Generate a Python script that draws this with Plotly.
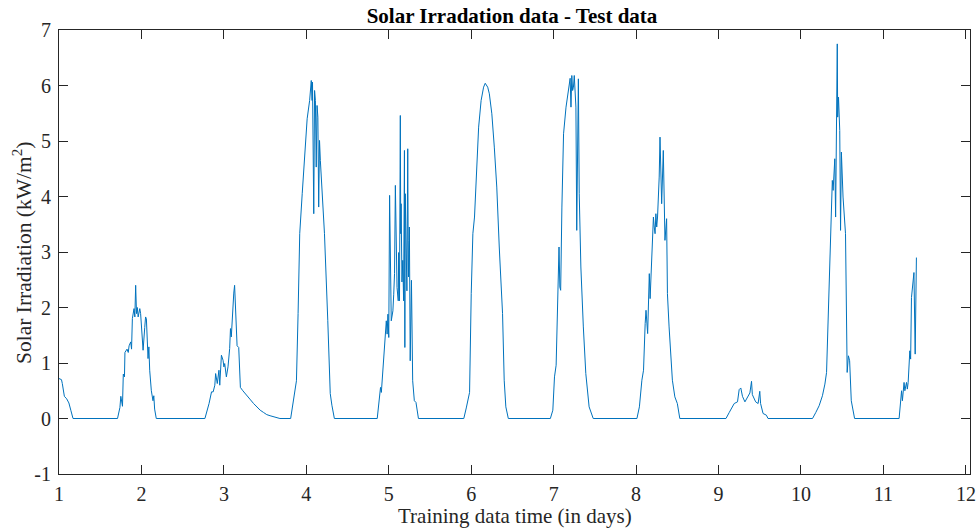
import plotly.graph_objects as go

# Time (days) and solar irradiation (kW/m^2)
t = [1.00, 1.03, 1.04, 1.065, 1.093, 1.12, 1.145, 1.17,
     1.71, 1.739, 1.75, 1.77, 1.78, 1.794, 1.80, 1.825, 1.84, 1.85, 1.87, 1.88, 1.89, 1.91, 1.92, 1.93,
     1.94, 1.95, 1.96, 1.98, 1.99, 2.02, 2.04, 2.05, 2.06, 2.08, 2.09, 2.10, 2.12, 2.14, 2.15, 2.16, 2.18,
     2.77, 2.82, 2.85, 2.87, 2.89, 2.90, 2.92, 2.94, 2.95, 2.97, 2.99, 3.00, 3.01, 3.03, 3.05, 3.07, 3.08,
     3.09, 3.11, 3.12, 3.13, 3.14, 3.16, 3.18, 3.20, 3.23, 3.27, 3.315, 3.36, 3.40, 3.44, 3.48, 3.52, 3.56,
     3.60, 3.64, 3.68,
     3.81, 3.835, 3.86, 3.88, 3.90, 3.92, 3.95, 3.98, 4.01, 4.04, 4.06, 4.07, 4.075, 4.09, 4.10, 4.11,
     4.12, 4.13, 4.14, 4.15, 4.16, 4.17, 4.19, 4.22, 4.26, 4.29, 4.31, 4.34,
     4.86, 4.90, 4.91, 4.93, 4.95, 4.97, 4.98, 4.99, 5.00, 5.01, 5.03, 5.05, 5.06, 5.07, 5.08, 5.10, 5.115,
     5.12, 5.13, 5.14, 5.145, 5.15, 5.16, 5.17, 5.18, 5.19, 5.195, 5.20, 5.22, 5.23, 5.235, 5.24, 5.25,
     5.26, 5.275, 5.28, 5.29, 5.31, 5.33, 5.36,
     5.91, 5.94, 5.98, 6.00, 6.02, 6.04, 6.07, 6.09, 6.12, 6.15, 6.17, 6.20, 6.22, 6.25, 6.28, 6.31, 6.34,
     6.38, 6.40, 6.42, 6.45,
     6.96, 6.99, 7.01, 7.03, 7.05, 7.065, 7.075, 7.085, 7.10, 7.12, 7.15, 7.18, 7.20, 7.21, 7.22, 7.23,
     7.24, 7.25, 7.26, 7.27, 7.28, 7.30, 7.31, 7.33, 7.36, 7.39, 7.43, 7.48,
     8.01, 8.04, 8.07, 8.09, 8.11, 8.12, 8.14, 8.15, 8.16, 8.17, 8.20, 8.21, 8.22, 8.23, 8.24, 8.25, 8.26,
     8.28, 8.29, 8.30, 8.31, 8.33, 8.34, 8.35, 8.37, 8.38, 8.40, 8.42, 8.44, 8.47, 8.50, 8.53,
     9.09, 9.13, 9.19, 9.23, 9.25, 9.27, 9.29, 9.32, 9.35, 9.38, 9.40, 9.41, 9.45, 9.48, 9.50, 9.51, 9.54,
     9.58, 9.60,
     10.14, 10.18, 10.22, 10.26, 10.29, 10.31, 10.33, 10.35, 10.36, 10.38, 10.39, 10.41, 10.42, 10.44,
     10.445, 10.455, 10.47, 10.48, 10.49, 10.51, 10.54, 10.55, 10.56, 10.575, 10.59, 10.61, 10.65,
     11.19, 11.22, 11.23, 11.25, 11.26, 11.28, 11.29, 11.30, 11.32, 11.33, 11.34, 11.37, 11.385, 11.40]

irr = [0.72, 0.70, 0.63, 0.40, 0.355, 0.28, 0.14, 0.0,
       0.0, 0.20, 0.40, 0.22, 0.80, 0.75, 1.19, 1.25, 1.19, 1.31, 1.38, 1.25, 1.80, 1.98, 1.83, 2.40,
       1.89, 2.00, 1.83, 1.98, 1.89, 1.23, 1.64, 1.83, 1.80, 1.08, 1.29, 0.87, 0.50, 0.32, 0.41, 0.17, 0.0,
       0.0, 0.27, 0.48, 0.48, 0.60, 0.81, 0.63, 0.87, 0.60, 1.14, 1.05, 0.93, 0.99, 0.75, 0.93, 1.26, 1.62,
       1.47, 2.17, 2.26, 2.40, 1.98, 1.31, 1.28, 0.56, 0.50, 0.42, 0.35, 0.27, 0.20, 0.15, 0.11, 0.07, 0.05,
       0.03, 0.01, 0.0,
       0.0, 0.26, 0.50, 0.68, 1.89, 3.33, 4.05, 4.77, 5.40, 5.73, 6.09, 5.73, 6.06, 3.69, 5.91, 5.73,
       4.53, 5.64, 5.43, 3.81, 5.01, 4.65, 4.05, 3.33, 1.77, 0.45, 0.24, 0.0,
       0.0, 0.56, 0.47, 0.92, 1.22, 1.76, 1.52, 1.88, 1.46, 4.02, 1.76, 1.94, 2.24, 2.61, 4.20, 2.36, 2.12,
       2.99, 2.12, 5.46, 3.33, 3.87, 2.46, 2.85, 2.12, 4.83, 1.28, 4.05, 2.30, 4.86, 3.21, 2.55, 3.45,
       1.04, 2.49, 1.28, 0.68, 0.32, 0.29, 0.0,
       0.0, 0.19, 0.47, 2.25, 3.33, 3.63, 4.65, 5.25, 5.73, 5.97, 6.04, 5.97, 5.85, 5.49, 4.89, 4.17, 3.09,
       1.89, 0.69, 0.21, 0.0,
       0.0, 0.15, 0.75, 0.96, 2.25, 3.09, 2.37, 2.31, 3.81, 5.13, 5.61, 5.91, 6.13, 5.61, 6.18, 5.91,
       5.97, 6.18, 5.94, 5.61, 3.39, 6.12, 4.05, 2.73, 1.65, 0.81, 0.21, 0.0,
       0.0, 0.21, 0.69, 0.87, 1.71, 1.95, 1.53, 2.25, 2.61, 2.16, 3.09, 3.63, 3.45, 3.33, 3.69, 3.45, 3.63,
       4.35, 5.07, 4.35, 3.87, 4.83, 3.93, 3.21, 3.60, 2.25, 1.65, 1.05, 0.69, 0.39, 0.27, 0.0,
       0.0, 0.11, 0.27, 0.30, 0.52, 0.55, 0.40, 0.30, 0.37, 0.46, 0.67, 0.43, 0.30, 0.27, 0.49, 0.27, 0.09,
       0.06, 0.0,
       0.0, 0.11, 0.23, 0.41, 0.62, 0.83, 1.76, 2.84, 3.45, 4.29, 4.11, 4.68, 3.63, 6.75,
       5.43, 5.79, 5.19, 3.39, 4.80, 3.99, 3.33, 1.95, 0.83, 1.13, 1.04, 0.32, 0.0,
       0.0, 0.50, 0.32, 0.65, 0.50, 0.65, 0.53, 0.65, 1.22, 1.07, 2.18, 2.63, 1.16, 2.90]

x_ticks = [1, 2, 3, 4, 5, 6, 7, 8, 9, 10, 11, 12]
y_ticks = [-1, 0, 1, 2, 3, 4, 5, 6, 7]
y_tick_text = ["-1", "0", "1", "2", "3", "4", "5", "6", "7"]

FONT = "Liberation Serif, Times New Roman, serif"
AXC = "#262626"

W, H = 979, 529
L, R, T, B = 59, 9, 30, 55
PW, PH = W - L - R, H - T - B

fig = go.Figure()
fig.add_trace(go.Scatter(x=t, y=irr, mode="lines",
                         line=dict(color="#0072BD", width=1), showlegend=False))

axis_common = dict(showline=True, linecolor=AXC, linewidth=1, mirror="ticks",
                   ticks="inside", ticklen=9, tickcolor=AXC, tickwidth=1,
                   showgrid=False, zeroline=False, automargin=False,
                   tickfont=dict(family=FONT, size=20, color=AXC))

fig.update_layout(
    width=W, height=H,
    margin=dict(l=L, r=R, t=T, b=B),
    paper_bgcolor="white", plot_bgcolor="white",
    title=dict(text="<b>Solar Irradation data - Test data</b>",
               font=dict(family=FONT, size=21, color="black"),
               x=512 / W, xanchor="center", y=1 - 16 / H, yanchor="middle",
               yref="container"),
    xaxis=dict(range=[1, 12.05], tickvals=x_ticks, ticklabelstandoff=2, **axis_common),
    yaxis=dict(range=[-1, 7], tickvals=y_ticks, ticktext=y_tick_text, ticklabelstandoff=3,
               **axis_common),
    annotations=[
        dict(text="Training data time (in days)", xref="paper", yref="paper",
             x=0.5, y=(T + PH - 516) / PH, xanchor="center", yanchor="middle",
             showarrow=False, font=dict(family=FONT, size=21, color=AXC)),
        dict(text="Solar Irradiation (kW/m<sup>2</sup>)", xref="paper", yref="paper",
             x=(22 - L) / PW, y=(T + PH - 253) / PH, xanchor="center", yanchor="middle",
             textangle=-90, showarrow=False, font=dict(family=FONT, size=21.5, color=AXC)),
    ],
)

fig.write_html("out.html", config={"displayModeBar": False},
               post_script="document.body.style.margin='0';document.body.style.overflow='hidden';")
